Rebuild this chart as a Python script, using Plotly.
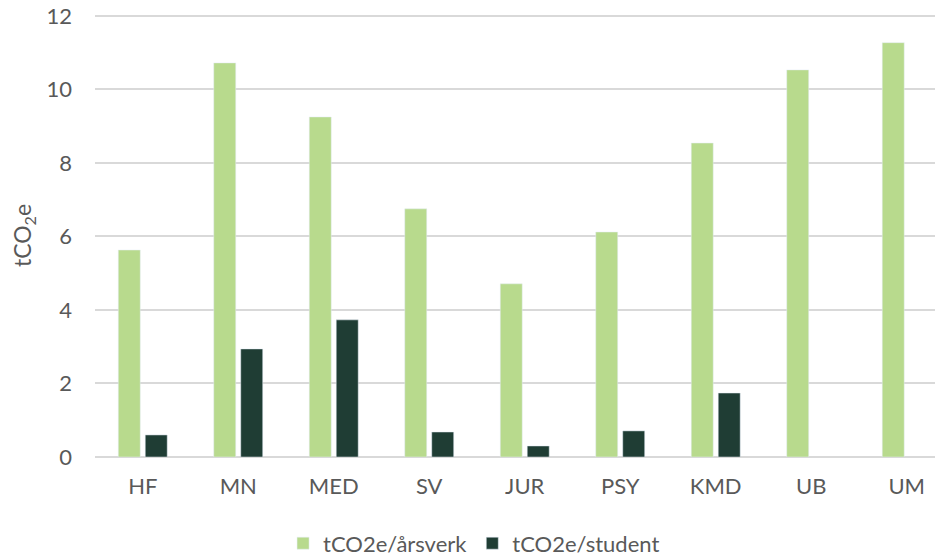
import plotly.graph_objects as go

# fakulteter / enheter
units = ["HF", "MN", "MED", "SV", "JUR", "PSY", "KMD", "UB", "UM"]

# tCO2e per årsverk og per student
per_aarsverk = [5.63, 10.72, 9.25, 6.75, 4.71, 6.12, 8.54, 10.53, 11.27]
per_student = [0.60, 2.94, 3.73, 0.68, 0.30, 0.71, 1.74, None, None]

y_ticks = [0, 2, 4, 6, 8, 10, 12]

light_green = "#b8da8d"
dark_green = "#1f3d34"
grey_text = "#595959"

fig = go.Figure()
fig.add_trace(go.Bar(x=units, y=per_aarsverk, name="tCO2e/årsverk",
                     marker_color=light_green))
fig.add_trace(go.Bar(x=units, y=per_student, name="tCO2e/student",
                     marker_color=dark_green))

# the page body keeps its 8px margin, so the figure is 8px smaller each way
fig.update_layout(
    width=935, height=549,
    margin=dict(l=87, r=0, t=6, b=100, autoexpand=False),
    paper_bgcolor="white",
    plot_bgcolor="white",
    font=dict(family="Lato, Open Sans, sans-serif", size=22, color=grey_text),
    barmode="group",
    bargap=0.435,
    bargroupgap=0.185,
    legend=dict(
        orientation="h",
        x=0.447, xanchor="center",
        y=-0.195, yanchor="middle",
        font=dict(size=22, color=grey_text),
        entrywidth=0,
    ),
)

fig.update_xaxes(
    range=[-0.5, 8.38],
    automargin=False,
    showgrid=False,
    showline=False,
    ticks="",
    ticklabelstandoff=14,
    tickfont=dict(size=22, color=grey_text),
)

fig.update_yaxes(
    range=[0, 12.05],
    automargin=False,
    tickvals=y_ticks,
    ticklabeloverflow="allow",
    showgrid=True,
    gridcolor="#d9d9d9",
    gridwidth=1.5,
    zeroline=True,
    zerolinecolor="#d9d9d9",
    zerolinewidth=1.5,
    ticks="",
    ticklabelstandoff=22,
    tickfont=dict(size=22, color=grey_text),
    title=dict(text="tCO<sub>2</sub>e", font=dict(size=23, color=grey_text), standoff=16),
)

fig.write_html("out.html")
